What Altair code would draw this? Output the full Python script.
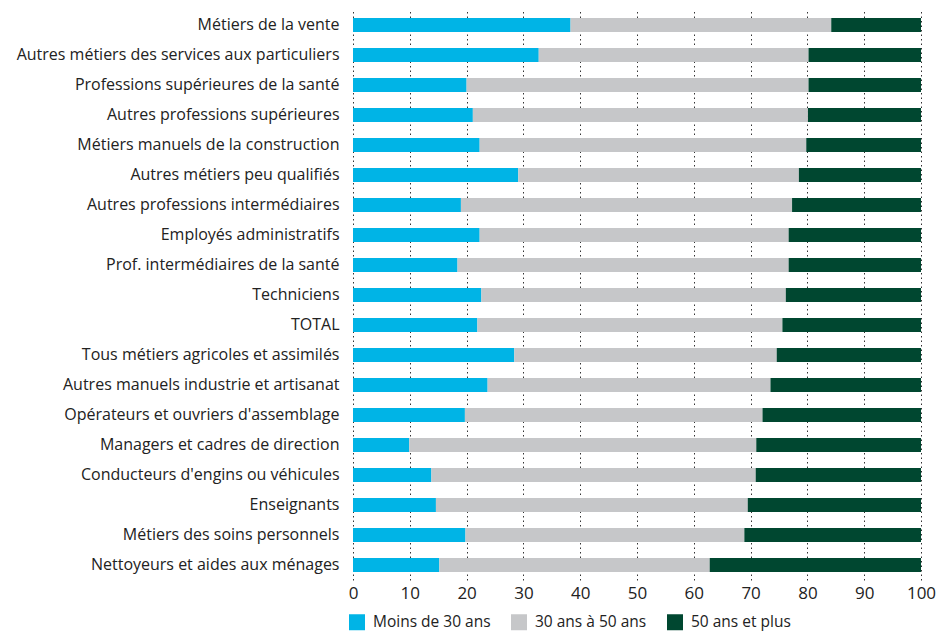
import altair as alt
import pandas as pd

categories = [
    "Métiers de la vente",
    "Autres métiers des services aux particuliers",
    "Professions supérieures de la santé",
    "Autres professions supérieures",
    "Métiers manuels de la construction",
    "Autres métiers peu qualifiés",
    "Autres professions intermédiaires",
    "Employés administratifs",
    "Prof. intermédiaires de la santé",
    "Techniciens",
    "TOTAL",
    "Tous métiers agricoles et assimilés",
    "Autres manuels industrie et artisanat",
    "Opérateurs et ouvriers d'assemblage",
    "Managers et cadres de direction",
    "Conducteurs d'engins ou véhicules",
    "Enseignants",
    "Métiers des soins personnels",
    "Nettoyeurs et aides aux ménages",
]
moins_30 = [38.3, 32.7, 20.0, 21.1, 22.3, 29.1, 19.0, 22.3, 18.4, 22.6, 21.9, 28.4, 23.7, 19.7, 9.9, 13.8, 14.6, 19.8, 15.2]
de_30_a_50 = [45.9, 47.5, 60.2, 59.0, 57.5, 49.4, 58.3, 54.4, 58.3, 53.6, 53.7, 46.2, 49.8, 52.4, 61.1, 57.1, 54.9, 49.1, 47.6]
plus_50 = [15.8, 19.8, 19.8, 19.9, 20.2, 21.5, 22.7, 23.3, 23.3, 23.8, 24.4, 25.4, 26.5, 27.9, 29.0, 29.1, 30.5, 31.1, 37.2]

series = ["Moins de 30 ans", "30 ans à 50 ans", "50 ans et plus"]
colors = ["#00B4E6", "#C6C7C9", "#004730"]

rows = []
for i, c in enumerate(categories):
    for k, (s, v) in enumerate(zip(series, [moins_30[i], de_30_a_50[i], plus_50[i]])):
        rows.append({"cat": c, "serie": s, "val": v, "ord": k})
df = pd.DataFrame(rows)

font = "Open Sans"

chart = alt.Chart(df).mark_bar(size=14).encode(
    y=alt.Y("cat:N", sort=categories, title=None,
            axis=alt.Axis(labelFontSize=16, labelFont=font, labelColor="#222",
                          labelPadding=14, ticks=False, domain=False, grid=False,
                          labelLimit=400)),
    x=alt.X("val:Q", stack="zero", title=None,
            scale=alt.Scale(domain=[0, 100], nice=False),
            axis=alt.Axis(values=list(range(0, 101, 10)), labelFontSize=17, labelFont=font,
                          labelColor="#222", domain=False, ticks=False, labelPadding=5,
                          labelFlush=False,
                          grid=True, gridColor="#333", gridDash=[1.5, 3], gridWidth=1)),
    color=alt.Color("serie:N", sort=series,
                    scale=alt.Scale(domain=series, range=colors),
                    legend=alt.Legend(title=None, orient="none", direction="horizontal",
                                      legendX=-4, legendY=604, symbolType="square",
                                      symbolSize=256, symbolStrokeWidth=0,
                                      labelFontSize=15.5, labelFont=font, labelColor="#222",
                                      columnPadding=20, labelOffset=8)),
    order=alt.Order("ord:Q"),
).properties(
    width=568, height=570,
    autosize=alt.AutoSizeParams(type="none"),
    padding={"left": 345, "top": 2, "right": 15, "bottom": 54},
).configure_view(stroke=None)

chart.save("out.html", embed_options={"renderer": "svg", "actions": False})
